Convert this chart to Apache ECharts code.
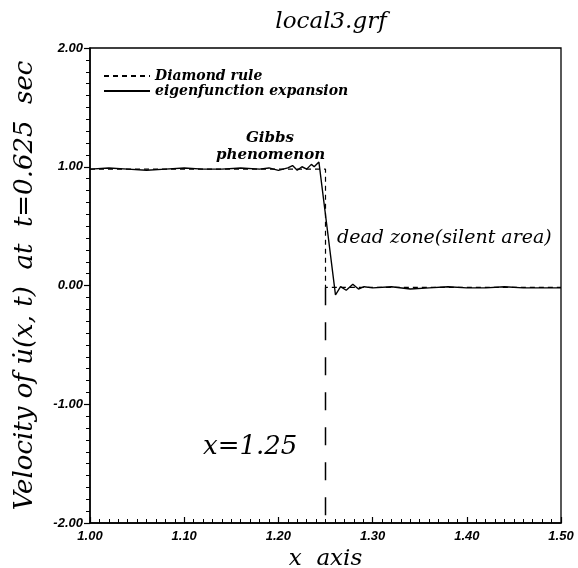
<!DOCTYPE html>
<html>
<head>
<meta charset="utf-8">
<script src="https://cdn.jsdelivr.net/npm/echarts@6/dist/echarts.min.js"></script>
<style>html,body{margin:0;padding:0;background:#fff}#c{width:578px;height:568px}</style>
</head>
<body>
<div id="c"></div>
<script>
// Data
const diamondX = [1.00, 1.25, 1.25, 1.50];
const diamondY = [0.98, 0.98, -0.015, -0.015];
const eigenX = [1.00, 1.02, 1.04, 1.06, 1.08, 1.10, 1.12, 1.14, 1.16, 1.18, 1.19, 1.20, 1.21, 1.215, 1.22, 1.225, 1.23, 1.235, 1.238, 1.243, 1.2606, 1.266, 1.272, 1.279, 1.285, 1.291, 1.30, 1.32, 1.34, 1.36, 1.38, 1.40, 1.42, 1.44, 1.46, 1.48, 1.50];
const eigenY = [0.98, 0.99, 0.98, 0.97, 0.98, 0.99, 0.98, 0.98, 0.99, 0.98, 0.99, 0.97, 0.99, 1.01, 0.97, 1.00, 0.98, 1.02, 1.00, 1.04, -0.08, -0.01, -0.04, 0.01, -0.03, -0.01, -0.02, -0.01, -0.03, -0.02, -0.01, -0.02, -0.02, -0.01, -0.02, -0.02, -0.02];
const markerX = [1.25, 1.25];
const markerY = [-0.015, -2.00];
const xTicks = ['1.00', '1.10', '1.20', '1.30', '1.40', '1.50'];
const yTicks = ['-2.00', '-1.00', '0.00', '1.00', '2.00'];
const seriesNames = ['Diamond rule', 'eigenfunction expansion'];

const pairs = (xs, ys) => xs.map((x, i) => [x, ys[i]]);
const serif = '"DejaVu Serif", serif';
const sansBI = {fontFamily: '"Liberation Sans", Arial, sans-serif', fontStyle: 'italic', fontWeight: 'bold', fontSize: 13, color: '#000'};

const chart = echarts.init(document.getElementById('c'), null, {renderer: 'canvas'});
chart.setOption({
  backgroundColor: '#fff',
  animation: false,
  title: {
    text: 'local3.grf', left: 326, top: 6, textAlign: 'center',
    textStyle: {fontFamily: serif, fontStyle: 'italic', fontWeight: 'normal', fontSize: 23, color: '#000'}
  },
  grid: {left: 90, right: 17, top: 48, bottom: 45, outerBoundsMode: 'none', containLabel: false, show: true, borderColor: '#000', borderWidth: 1.3, backgroundColor: 'transparent'},
  legend: {
    left: 98, top: 64, orient: 'vertical', itemWidth: 46, itemHeight: 10, itemGap: 1,
    data: seriesNames,
    itemStyle: {opacity: 0},
    textStyle: {fontFamily: serif, fontStyle: 'italic', fontWeight: 'bold', fontSize: 14, color: '#000'}
  },
  xAxis: {
    type: 'value', min: 1.0, max: 1.5, interval: 0.1,
    name: 'x  axis', nameLocation: 'middle', nameGap: 23,
    nameTextStyle: {fontFamily: serif, fontStyle: 'italic', fontSize: 23, color: '#000'},
    axisLine: {onZero: false, lineStyle: {color: '#000', width: 1.5}},
    axisTick: {inside: true, length: 6, lineStyle: {color: '#000', width: 1.2}},
    minorTick: {show: true, splitNumber: 10, length: 4, lineStyle: {color: '#000', width: 1}},
    splitLine: {show: false},
    axisLabel: Object.assign({margin: 7, formatter: v => xTicks[Math.round((v - 1.0) * 10)]}, sansBI)
  },
  yAxis: {
    type: 'value', min: -2, max: 2, interval: 1,
    name: 'Velocity of u\u0307(x, t)  at  t=0.625  sec', nameLocation: 'middle', nameGap: 52,
    nameTextStyle: {fontFamily: serif, fontStyle: 'italic', fontSize: 26, color: '#000'},
    axisLine: {onZero: false, lineStyle: {color: '#000', width: 1.5}},
    axisTick: {length: 6, lineStyle: {color: '#000', width: 1.2}},
    minorTick: {show: true, splitNumber: 10, length: 4, lineStyle: {color: '#000', width: 1}},
    splitLine: {show: false},
    axisLabel: Object.assign({margin: 7, formatter: v => yTicks[Math.round(v + 2)]}, sansBI)
  },
  series: [
    {
      name: seriesNames[0], type: 'line', showSymbol: false, symbol: 'none',
      data: pairs(diamondX, diamondY),
      lineStyle: {color: '#000', width: 1.2, type: [5, 4]}, itemStyle: {color: '#000'}
    },
    {
      name: seriesNames[1], type: 'line', showSymbol: false, symbol: 'none',
      data: pairs(eigenX, eigenY),
      lineStyle: {color: '#000', width: 1.4, type: 'solid'}, itemStyle: {color: '#000'}
    },
    {
      name: 'marker', type: 'line', showSymbol: false, symbol: 'none',
      data: pairs(markerX, markerY),
      lineStyle: {color: '#000', width: 1.5, type: [18, 17]}, silent: true
    }
  ],
  graphic: [
    {type: 'text', left: 246, top: 131, style: {text: 'Gibbs', font: 'italic bold 15px "DejaVu Serif", serif', fill: '#000'}},
    {type: 'text', left: 216, top: 148, style: {text: 'phenomenon', font: 'italic bold 15px "DejaVu Serif", serif', fill: '#000'}},
    {type: 'text', left: 337, top: 229, style: {text: 'dead zone(silent area)', font: 'italic 19px "DejaVu Serif", serif', fill: '#000'}},
    {type: 'text', left: 203, top: 434, style: {text: 'x=1.25', font: 'italic 26px "DejaVu Serif", serif', fill: '#000'}}
  ]
});
</script>
</body>
</html>
